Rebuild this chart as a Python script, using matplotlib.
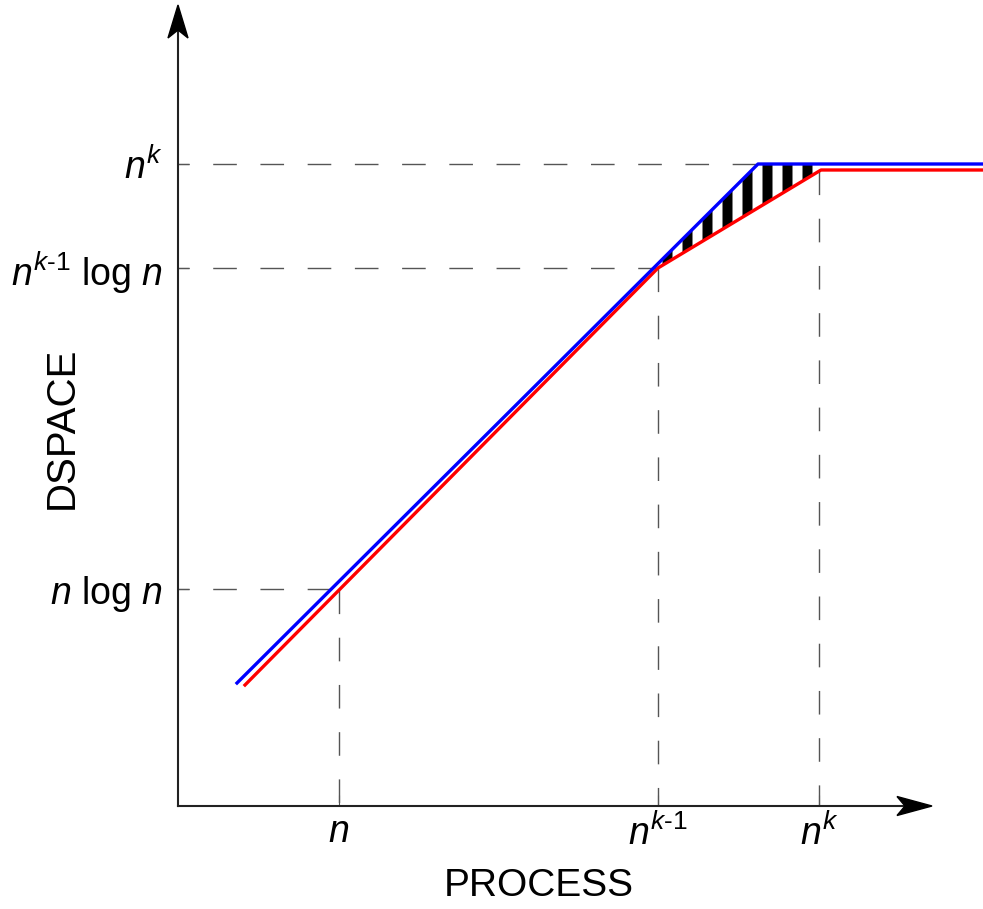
import numpy as np
import matplotlib.pyplot as plt
from matplotlib.patches import Polygon

plt.rcParams['font.family'] = ['Liberation Sans', 'DejaVu Sans']
plt.rcParams['mathtext.fontset'] = 'custom'
plt.rcParams['mathtext.rm'] = 'Liberation Sans'
plt.rcParams['mathtext.it'] = 'Liberation Sans:italic'

# data (x = PROCESS, y = DSPACE), origin at the axes corner
x_ticks = [161, 480, 641]
x_labels = [r'$n$', r'$n^{k\text{-}\mathit{1}}$', r'$n^k$']
y_ticks = [217, 538, 642]
y_labels = [r'$n$ log $n$', r'$n^{k\text{-}\mathit{1}}$ log $n$', r'$n^k$']

blue_x = [59, 580, 805]
blue_y = [123, 642, 642]
red_x = [67, 480, 643, 805]
red_y = [121, 538, 636, 636]

fig = plt.figure(figsize=(9.83, 9.09), dpi=100)
ax = fig.add_axes([0, 0, 1, 1])
ax.set_xlim(-178, 805)
ax.set_ylim(-103, 806)

# guide lines
dash = (0, (17, 17))
for yt, xe in zip(y_ticks, [161, 480, 580]):
    ax.plot([0, xe], [yt, yt], color='#555555', lw=1.0, linestyle=(9, (17, 17)), zorder=1)
for xt in x_ticks:
    top = np.interp(xt, red_x, red_y)
    ax.plot([xt, xt], [top, 0], color='#555555', lw=1.0, linestyle=dash, zorder=1)

# striped gap between the two curves
for s in np.arange(484, 630, 20):
    xs = np.linspace(s, s + 10, 20)
    ax.fill_between(xs, np.interp(xs, red_x, red_y), np.interp(xs, blue_x, blue_y),
                    color='black', lw=0, zorder=2)

ax.plot(red_x, red_y, color='#ff0000', lw=2.4, zorder=3)
ax.plot(blue_x, blue_y, color='#0000ff', lw=2.4, zorder=4)

# axes with arrows
for side in ['top', 'right']:
    ax.spines[side].set_visible(False)
ax.spines['left'].set_position(('data', 0))
ax.spines['bottom'].set_position(('data', 0))
ax.spines['left'].set_bounds(0, 775)
ax.spines['bottom'].set_bounds(0, 725)
for side in ['left', 'bottom']:
    ax.spines[side].set_linewidth(1.5)
    ax.spines[side].set_color('#222222')
ax.add_patch(Polygon([[754, 0], [719, 9.5], [727, 0], [719, -9.5]], closed=True,
                     color='black', zorder=5))
ax.add_patch(Polygon([[0, 801], [-10, 768], [0, 776], [10, 768]], closed=True,
                     color='black', zorder=5))

ax.set_xticks(x_ticks)
ax.set_xticklabels(x_labels)
ax.set_yticks(y_ticks)
ax.set_yticklabels(y_labels)
ax.tick_params(axis='both', direction='in', length=8, width=0.8, color='#555555',
               labelsize=27)
ax.tick_params(axis='x', pad=6)
ax.tick_params(axis='y', pad=11)

fig.text(539 / 983, 1 - 886 / 909, 'PROCESS', fontsize=28, ha='center', va='center')
fig.text(62 / 983, 1 - 428 / 909, 'DSPACE', fontsize=29, ha='center', va='center',
         rotation=90)

fig.savefig('out.png', dpi=100)
